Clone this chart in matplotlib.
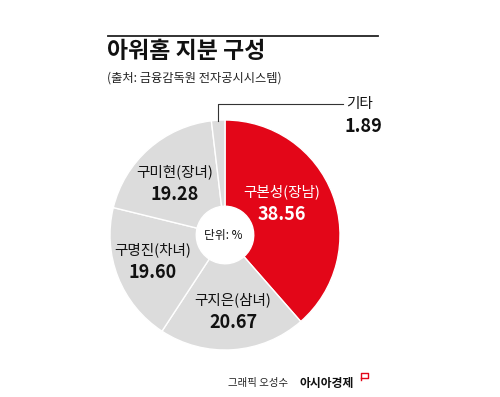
import matplotlib
matplotlib.use('Agg')
import matplotlib.pyplot as plt
from matplotlib.lines import Line2D

plt.rcParams['font.family'] = ['Noto Sans CJK KR', 'DejaVu Sans']

# data
names = ['구본성(장남)', '구지은(삼녀)', '구명진(차녀)', '구미현(장녀)', '기타']
shares = [38.56, 20.67, 19.60, 19.28, 1.89]
colors = ['#e30618', '#dcdcdc', '#dcdcdc', '#dcdcdc', '#dcdcdc']

W, H = 500, 397
fig = plt.figure(figsize=(W / 100, H / 100), dpi=100)
fig.patch.set_facecolor('white')

def fx(px):
    return px / W

def fy(py):
    return 1 - py / H

# header
fig.add_artist(Line2D([fx(108), fx(378)], [fy(36), fy(36)], color='#222222', lw=1.3))
fig.text(fx(107), fy(51), '아워홈 지분 구성', fontsize=16.5, fontweight='heavy',
         va='center', ha='left', color='#111111')
fig.text(fx(107), fy(78), '(출처: 금융감독원 전자공시시스템)', fontsize=8.8,
         va='center', ha='left', color='#222222')

# donut
cx, cy, r = 225, 235, 115
ax = fig.add_axes([fx(cx - r), fy(cy + r), 2 * r / W, 2 * r / H])
wedges, _ = ax.pie(shares, colors=colors, startangle=90, counterclock=False,
                   radius=1.0, wedgeprops=dict(width=0.75, edgecolor='white', linewidth=1.0))
ax.set_xlim(-1, 1)
ax.set_ylim(-1, 1)
ax.set_aspect('equal')
ax.axis('off')

def d(px, py):
    return (px - cx) / r, (cy - py) / r

ax.text(*d(223, 236), '단위: %', fontsize=8.5, ha='center', va='center', color='#111111')

label_pos = [(282, 192), (233, 300), (153, 250), (175, 172)]
for i, (px, py) in enumerate(label_pos):
    c = 'white' if i == 0 else '#111111'
    ax.text(*d(px, py), names[i], fontsize=10.5, ha='center', va='center', color=c)
    ax.text(*d(px, py + 23), f'{shares[i]:.2f}', fontsize=13, ha='center', va='center',
            color=c, fontweight='semibold')

# leader for 기타
x0, y0 = d(218, 121)
x1, y1 = d(218, 104)
x2, _ = d(343, 104)
ax.plot([x0, x1, x2], [y0, y1, y1], color='#333333', lw=0.8, clip_on=False)
ax.text(*d(346, 104), names[4], fontsize=10.5, ha='left', va='center', color='#111111')
ax.text(*d(344, 127), f'{shares[4]:.2f}', fontsize=13, ha='left', va='center',
        color='#111111', fontweight='semibold')

# footer
fig.text(fx(228), fy(383), '그래픽 오성수', fontsize=7.5, ha='left', va='center', color='#222222')
fig.text(fx(299), fy(383), '아시아경제', fontsize=8.5, fontweight='bold', ha='left',
         va='center', color='#111111')
fig.add_artist(Line2D([fx(361), fx(361), fx(368), fx(368), fx(361)],
                      [fy(380), fy(373), fy(373), fy(378), fy(378)],
                      color='#e30618', lw=1.0))

fig.savefig('out.png', dpi=100)
